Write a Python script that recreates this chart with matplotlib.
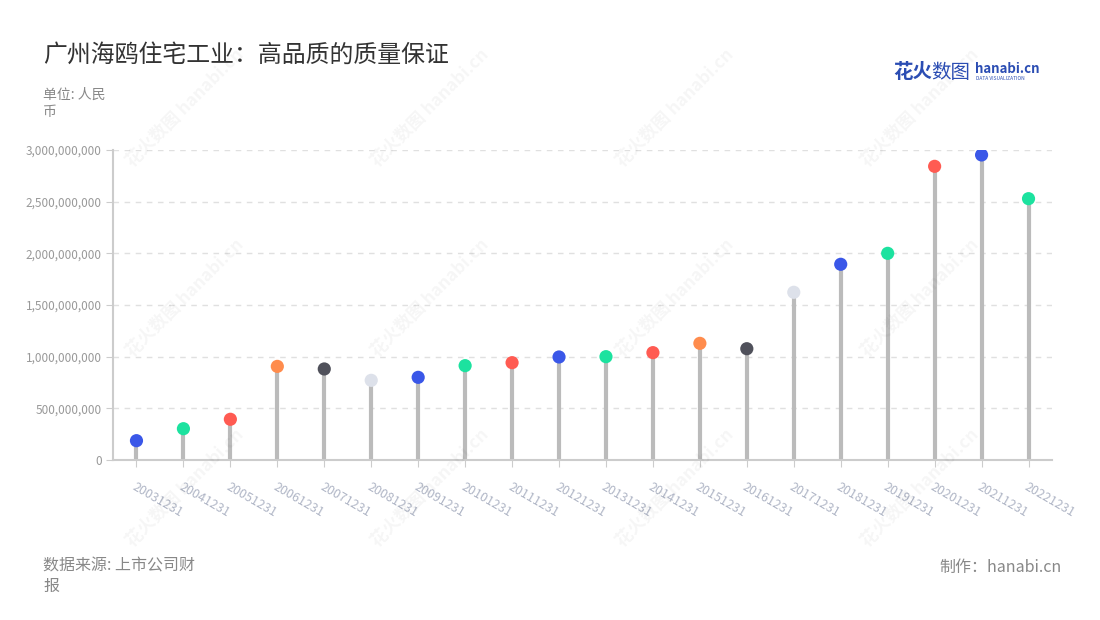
import matplotlib
matplotlib.use("Agg")
import matplotlib.pyplot as plt
from matplotlib.ticker import FuncFormatter, MultipleLocator

plt.rcParams['font.family'] = ['Noto Sans CJK SC', 'DejaVu Sans']

# ---- data ----
dates = ["20031231", "20041231", "20051231", "20061231", "20071231", "20081231",
         "20091231", "20101231", "20111231", "20121231", "20131231", "20141231",
         "20151231", "20161231", "20171231", "20181231", "20191231", "20201231",
         "20211231", "20221231"]
values = [187e6, 303e6, 394e6, 906e6, 881e6, 771e6, 800e6, 913e6, 942e6, 997e6,
          1000e6, 1039e6, 1129e6, 1077e6, 1623e6, 1894e6, 2000e6, 2842e6, 2952e6, 2529e6]
BLUE, GREEN, RED, ORANGE, DARK, LIGHT = "#3a57e8", "#1ce29f", "#ff5b52", "#ff8c4d", "#50515b", "#dde1ea"
dot_colors = [BLUE, GREEN, RED, ORANGE, DARK, LIGHT, BLUE, GREEN, RED, BLUE,
              GREEN, RED, ORANGE, DARK, LIGHT, BLUE, GREEN, RED, BLUE, GREEN]

title = "广州海鸥住宅工业：高品质的质量保证"
unit_text = "单位: 人民\n币"
source_text = "数据来源: 上市公司财\n报"
maker_text = "制作：hanabi.cn"

fig = plt.figure(figsize=(11, 6.2), dpi=100)
fig.patch.set_facecolor("white")

# watermarks
wm_x = [185, 430, 675, 920]
wm_y = [108, 298, 488]
for wx in wm_x:
    for wy in wm_y:
        fig.text(wx / 1100, 1 - wy / 620, "花火数图 hanabi.cn", rotation=45,
                 ha="center", va="center", fontsize=12.5, color="#000000",
                 alpha=0.04, fontweight="bold", zorder=0)

ax = fig.add_axes([113 / 1100, 1 - 460 / 620, (1052 - 113) / 1100, (460 - 150) / 620])
ax.set_facecolor("none")
x = list(range(len(dates)))
ax.vlines(x, 0, values, colors="#bbbbbb", linewidth=3, zorder=2)
ax.scatter(x, values, s=90, c=dot_colors, zorder=3, linewidths=0)

ax.set_xlim(-0.5, len(dates) - 0.5)
ax.set_ylim(0, 3e9)
ax.yaxis.set_major_locator(MultipleLocator(5e8))
ax.yaxis.set_major_formatter(FuncFormatter(lambda v, p: f"{int(v):,}"))
ax.grid(axis="y", color="#e0e0e0", linestyle=(0, (4, 4)), linewidth=1)
ax.set_axisbelow(True)

for s in ["top", "right"]:
    ax.spines[s].set_visible(False)
ax.spines["left"].set_color("#cccccc")
ax.spines["bottom"].set_color("#cccccc")
ax.spines["left"].set_linewidth(1.5)
ax.spines["bottom"].set_linewidth(1.5)

ax.tick_params(axis="y", length=5, color="#cccccc", labelsize=8.5, labelcolor="#999999", pad=3)
ax.tick_params(axis="x", length=5, color="#cccccc", pad=10)
ax.set_xticks(x)
ax.set_xticklabels(dates, rotation=-30, ha="left", va="top", rotation_mode="anchor",
                   fontsize=9, color="#b0b6c6")

# titles and notes
fig.text(43 / 1100, 1 - 55 / 620, title, fontsize=17.2, color="#333333", ha="left", va="center")
fig.text(43 / 1100, 1 - 88 / 620, unit_text, fontsize=10, color="#888888", ha="left", va="top",
         linespacing=1.25)
fig.text(43 / 1100, 1 - 557 / 620, source_text, fontsize=11.5, color="#888888", ha="left", va="top",
         linespacing=1.3)
fig.text(1062 / 1100, 1 - 567 / 620, maker_text, fontsize=11.5, color="#888888", ha="right", va="center")

# logo
fig.text(893 / 1100, 1 - 72 / 620, "花火", fontsize=14, color="#2b4db3", fontweight="bold",
         ha="left", va="center")
fig.text(931 / 1100, 1 - 72 / 620, "数图", fontsize=14, color="#2b4db3",
         ha="left", va="center")
fig.text(975 / 1100, 1 - 69 / 620, "hanabi.cn", fontsize=9.5, color="#2b4db3", fontweight="bold",
         ha="left", va="center")
fig.text(976 / 1100, 1 - 79 / 620, "DATA VISUALIZATION", fontsize=3.5, color="#2b4db3",
         ha="left", va="center")

fig.savefig("out.png", dpi=100, facecolor="white")
